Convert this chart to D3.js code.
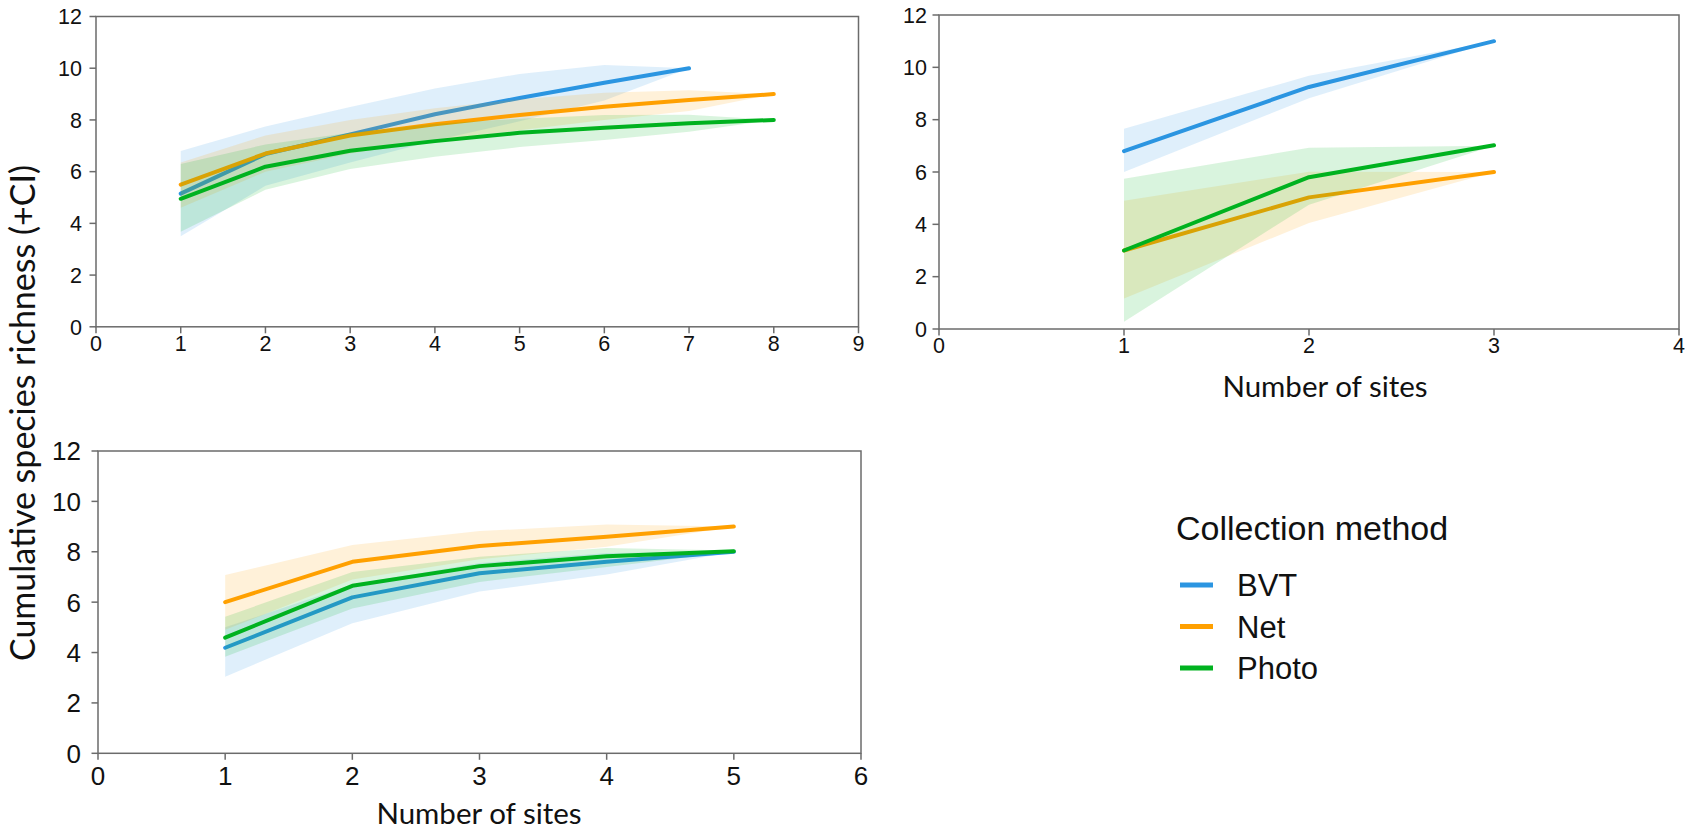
<!DOCTYPE html>
<html>
<head>
<meta charset="utf-8">
<script src="https://cdn.jsdelivr.net/npm/d3@7"></script>
<style>
  html, body { margin: 0; padding: 0; background: #fff; }
  svg { display: block; }
</style>
</head>
<body>
<svg id="chart" width="1692" height="832"></svg>
<script>
// Collection methods and their colours
const methods = ["BVT", "Net", "Photo"];
const methodColors = ["#2b95e1", "#ffa000", "#00b21f"];

// Panel A (upper left): sites 1–8
const sitesA = [1, 2, 3, 4, 5, 6, 7, 8];
const bvtA   = [5.15, 6.68, 7.44, 8.22, 8.85, 9.44, 10.0];
const bvtAlo = [3.5, 5.45, 6.35, 7.2, 7.95, 8.75, 10.0];
const bvtAhi = [6.8, 7.75, 8.5, 9.22, 9.78, 10.12, 10.0];
const netA   = [5.5, 6.7, 7.4, 7.83, 8.19, 8.51, 8.77, 9.0];
const netAlo = [4.6, 6.0, 6.7, 7.2, 7.6, 8.0, 8.35, 9.0];
const netAhi = [6.35, 7.4, 8.0, 8.45, 8.8, 9.05, 9.15, 9.0];
const phoA   = [4.95, 6.19, 6.81, 7.18, 7.5, 7.7, 7.87, 8.0];
const phoAlo = [3.68, 5.3, 6.1, 6.58, 6.95, 7.22, 7.54, 8.0];
const phoAhi = [6.3, 7.05, 7.5, 7.85, 8.05, 8.19, 8.2, 8.0];

// Panel B (upper right): sites 1–3
const sitesB = [1, 2, 3];
const bvtB   = [6.8, 9.25, 11.0];
const bvtBlo = [6.0, 8.82, 11.0];
const bvtBhi = [7.65, 9.68, 11.0];
const netB   = [3.0, 5.03, 6.0];
const netBlo = [1.17, 4.05, 6.0];
const netBhi = [4.9, 6.01, 6.0];
const phoB   = [3.0, 5.8, 7.02];
const phoBlo = [0.28, 4.75, 7.0];
const phoBhi = [5.74, 6.93, 7.0];

// Panel C (lower left): sites 1–5
const sitesC = [1, 2, 3, 4, 5];
const bvtC   = [4.19, 6.19, 7.15, 7.6, 8.0];
const bvtClo = [3.04, 5.16, 6.42, 7.1, 8.0];
const bvtChi = [5.0, 6.7, 7.55, 7.95, 8.0];
const netC   = [6.0, 7.6, 8.23, 8.6, 9.0];
const netClo = [4.9, 6.9, 7.7, 8.2, 9.0];
const netChi = [7.08, 8.27, 8.82, 9.08, 9.0];
const phoC   = [4.59, 6.65, 7.43, 7.82, 8.02];
const phoClo = [3.83, 5.75, 6.8, 7.4, 8.0];
const phoChi = [5.42, 7.2, 7.8, 8.15, 8.05];

// Axis ticks
const yTicks = [0, 2, 4, 6, 8, 10, 12];
const xTicksA = [0, 1, 2, 3, 4, 5, 6, 7, 8, 9];
const xTicksB = [0, 1, 2, 3, 4];
const xTicksC = [0, 1, 2, 3, 4, 5, 6];

// Text
const yTitle = "Cumulative species richness (+CI)";
const xTitle = "Number of sites";
const legendTitle = "Collection method";

function series(sites, mean, lo, hi) {
  return mean.map((m, i) => ({ x: sites[i], y: m, lo: lo[i], hi: hi[i] }));
}

const panels = [
  {
    box: { left: 96, right: 858.5, top: 16.5, bottom: 326.8 },
    xDomain: [0, 9], xTicks: xTicksA, fs: 21.5, yGap: 14, xBase: 24.5,
    data: [series(sitesA, bvtA, bvtAlo, bvtAhi), series(sitesA, netA, netAlo, netAhi), series(sitesA, phoA, phoAlo, phoAhi)]
  },
  {
    box: { left: 939, right: 1679, top: 15, bottom: 329 },
    xDomain: [0, 4], xTicks: xTicksB, fs: 21.5, yGap: 12, xBase: 24,
    data: [series(sitesB, bvtB, bvtBlo, bvtBhi), series(sitesB, netB, netBlo, netBhi), series(sitesB, phoB, phoBlo, phoBhi)]
  },
  {
    box: { left: 98, right: 861, top: 451, bottom: 753.3 },
    xDomain: [0, 6], xTicks: xTicksC, fs: 26, yGap: 17, xBase: 32,
    data: [series(sitesC, bvtC, bvtClo, bvtChi), series(sitesC, netC, netClo, netChi), series(sitesC, phoC, phoClo, phoChi)]
  }
];

const svg = d3.select("#chart");
const axisColor = "#6b6b6b";
const tickFont = "'Liberation Sans', Arial, sans-serif";
const titleFont = "Lato, 'Open Sans', sans-serif";

panels.forEach(p => {
  const b = p.box;
  const x = d3.scaleLinear().domain(p.xDomain).range([b.left, b.right]);
  const y = d3.scaleLinear().domain([0, 12]).range([b.bottom, b.top]);
  const g = svg.append("g");

  // ribbons and lines, one method after another
  const area = d3.area().x(d => x(d.x)).y0(d => y(d.lo)).y1(d => y(d.hi));
  const line = d3.line().x(d => x(d.x)).y(d => y(d.y));
  p.data.forEach((s, i) => {
    g.append("path").attr("d", area(s))
      .attr("fill", methodColors[i]).attr("fill-opacity", 0.15);
    g.append("path").attr("d", line(s))
      .attr("fill", "none").attr("stroke", methodColors[i])
      .attr("stroke-width", 4).attr("stroke-linejoin", "round").attr("stroke-linecap", "round");
  });

  // frame
  g.append("rect")
    .attr("x", b.left).attr("y", b.top)
    .attr("width", b.right - b.left).attr("height", b.bottom - b.top)
    .attr("fill", "none").attr("stroke", axisColor).attr("stroke-width", 1.5);

  // y ticks
  const yAxis = g.append("g");
  yTicks.forEach(t => {
    yAxis.append("line")
      .attr("x1", b.left - 6.5).attr("x2", b.left)
      .attr("y1", y(t)).attr("y2", y(t))
      .attr("stroke", axisColor).attr("stroke-width", 1.5);
    yAxis.append("text")
      .attr("x", b.left - p.yGap).attr("y", y(t) + 0.36 * p.fs)
      .attr("text-anchor", "end")
      .attr("font-family", tickFont).attr("font-size", p.fs).attr("fill", "#111")
      .text(t);
  });

  // x ticks
  const xAxis = g.append("g");
  p.xTicks.forEach(t => {
    xAxis.append("line")
      .attr("x1", x(t)).attr("x2", x(t))
      .attr("y1", b.bottom).attr("y2", b.bottom + 6.5)
      .attr("stroke", axisColor).attr("stroke-width", 1.5);
    xAxis.append("text")
      .attr("x", x(t)).attr("y", b.bottom + p.xBase)
      .attr("text-anchor", "middle")
      .attr("font-family", tickFont).attr("font-size", p.fs).attr("fill", "#111")
      .text(t);
  });
});

// axis titles
svg.append("text")
  .attr("x", 1325).attr("y", 397)
  .attr("text-anchor", "middle")
  .attr("font-family", titleFont).attr("font-size", 29.5).attr("fill", "#111")
  .text(xTitle);
svg.append("text")
  .attr("x", 479).attr("y", 824)
  .attr("text-anchor", "middle")
  .attr("font-family", titleFont).attr("font-size", 29.5).attr("fill", "#111")
  .text(xTitle);
svg.append("text")
  .attr("transform", "translate(35,413) rotate(-90)")
  .attr("text-anchor", "middle")
  .attr("font-family", titleFont).attr("font-size", 34).attr("fill", "#111")
  .text(yTitle);

// legend
const legend = svg.append("g");
legend.append("text")
  .attr("x", 1176).attr("y", 540)
  .attr("font-family", tickFont).attr("font-size", 34).attr("fill", "#111")
  .text(legendTitle);
const legendY = d3.scalePoint().domain(methods).range([585, 668]);
methods.forEach((m, i) => {
  legend.append("line")
    .attr("x1", 1180).attr("x2", 1213)
    .attr("y1", legendY(m)).attr("y2", legendY(m))
    .attr("stroke", methodColors[i]).attr("stroke-width", 4.8);
  legend.append("text")
    .attr("x", 1237).attr("y", legendY(m) + 11)
    .attr("font-family", tickFont).attr("font-size", 31).attr("fill", "#111")
    .text(m);
});
</script>
</body>
</html>
